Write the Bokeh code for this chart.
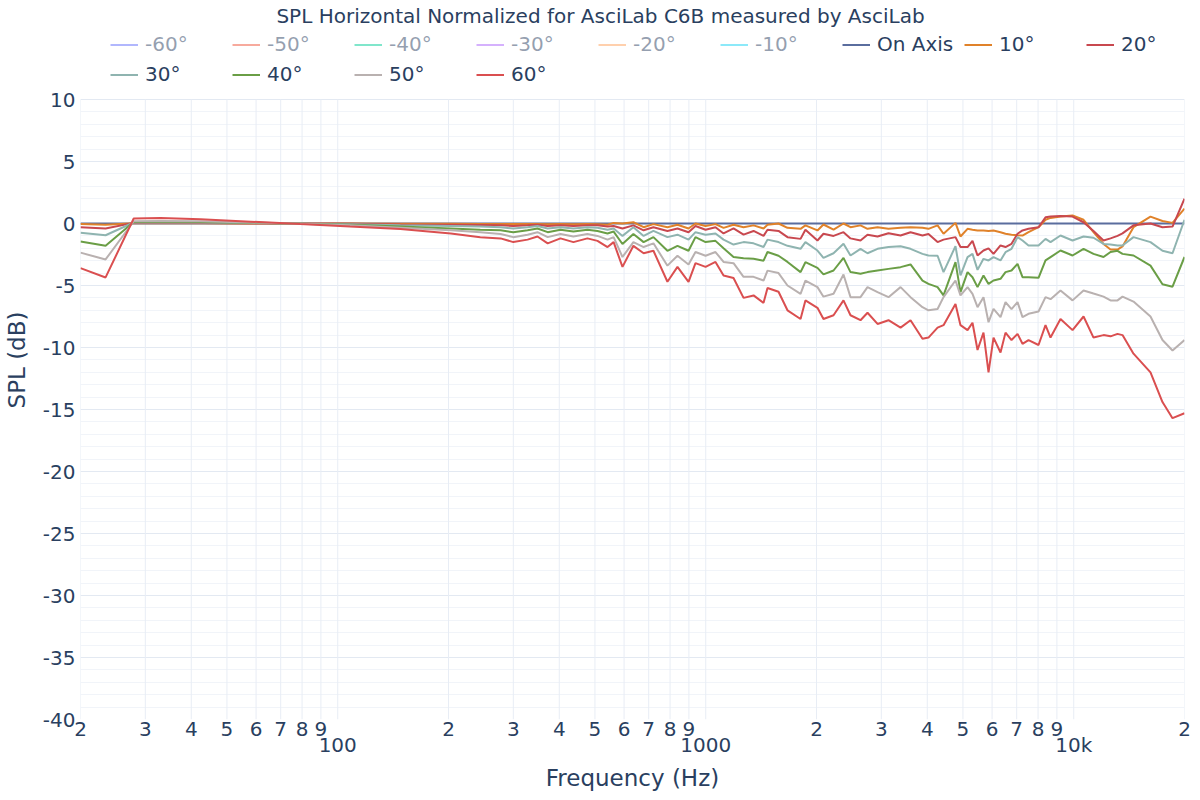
from bokeh.plotting import figure
from bokeh.models import Range1d, FixedTicker, LogAxis, Legend, LegendItem, Label
from bokeh.embed import file_html
from bokeh.resources import INLINE

# ---------------- data ----------------
freq_hz = [20, 23.4, 27.9, 33, 42.4, 58, 79, 108, 148, 203,
           244, 277, 300, 328, 349, 372, 403, 437, 477, 508,
           541, 562, 594, 636, 678, 721, 787, 838, 898, 938,
           999, 1063, 1118, 1190, 1267, 1349, 1436, 1472, 1577, 1668,
           1810, 1866, 2012, 2089, 2225, 2368, 2474, 2634, 2752, 2930,
           3138, 3384, 3602, 3882, 4030, 4266, 4428, 4772, 4924, 5146,
           5308, 5478, 5686, 5868, 6054, 6325, 6526, 6776, 7036, 7258,
           7536, 8024, 8382, 8650, 9206, 9926, 10634, 11318, 12050, 12590,
           13152, 13570, 14536, 16166, 17426, 18556, 20000]

spl_on_axis = [0.0, 0.0, 0.0, 0.0, 0.0, 0.0, 0.0, 0.0, 0.0, 0.0,
               0.0, 0.0, 0.0, 0.0, 0.0, 0.0, 0.0, 0.0, 0.0, 0.0,
               0.0, 0.0, 0.0, 0.0, 0.0, 0.0, 0.0, 0.0, 0.0, 0.0,
               0.0, 0.0, 0.0, 0.0, 0.0, 0.0, 0.0, 0.0, 0.0, 0.0,
               0.0, 0.0, 0.0, 0.0, 0.0, 0.0, 0.0, 0.0, 0.0, 0.0,
               0.0, 0.0, 0.0, 0.0, 0.0, 0.0, 0.0, 0.0, 0.0, 0.0,
               0.0, 0.0, 0.0, 0.0, 0.0, 0.0, 0.0, 0.0, 0.0, 0.0,
               0.0, 0.0, 0.0, 0.0, 0.0, 0.0, 0.0, 0.0, 0.0, 0.0,
               0.0, 0.0, 0.0, 0.0, 0.0, 0.0, 0.0]

spl_10 = [-0.05, -0.1, 0.02, 0.02, 0.02, 0.0, 0.0, -0.01, -0.02, -0.03,
          -0.04, -0.05, -0.05, -0.05, -0.04, -0.06, -0.05, -0.06, -0.05, -0.06,
          -0.1, 0.05, 0.0, 0.1, -0.3, -0.05, -0.3, -0.1, -0.4, 0.0,
          -0.2, -0.05, -0.35, -0.1, -0.3, -0.15, -0.4, -0.1, 0.0, -0.35,
          -0.43, -0.15, -0.56, -0.08, -0.5, 0.0, -0.3, -0.15, -0.43, -0.3,
          -0.43, -0.35, -0.3, -0.35, -0.43, -0.15, -0.83, 0.05, -1.05, -0.43,
          -0.5, -0.56, -0.56, -0.6, -0.56, -0.7, -0.83, -0.9, -0.95, -0.97,
          -0.7, -0.3, 0.3, 0.45, 0.56, 0.65, 0.3, -0.7, -1.65, -2.1,
          -2.1, -1.85, -0.3, 0.55, 0.2, 0.05, 1.2]

spl_20 = [-0.3, -0.4, 0.05, 0.05, 0.05, 0.03, 0.0, -0.03, -0.08, -0.1,
          -0.12, -0.15, -0.2, -0.15, -0.1, -0.2, -0.15, -0.2, -0.15, -0.15,
          -0.25, -0.2, -0.4, -0.15, -0.55, -0.3, -0.6, -0.4, -0.7, -0.2,
          -0.5, -0.3, -0.8, -0.4, -0.9, -0.6, -1.0, -0.5, -0.6, -1.1,
          -1.24, -0.5, -1.37, -0.83, -1.0, -0.7, -1.2, -1.37, -0.9, -1.05,
          -0.78, -0.97, -0.7, -0.97, -0.85, -1.5, -1.3, -1.1, -1.9, -1.9,
          -1.4, -2.58, -2.18, -2.0, -2.45, -1.77, -1.9, -1.64, -0.83, -0.56,
          -0.43, -0.3, 0.5, 0.56, 0.6, 0.56, 0.1, -0.6, -1.37, -1.2,
          -1.0, -0.8, -0.15, 0.0, -0.3, -0.25, 2.0]

spl_30 = [-0.75, -0.95, 0.08, 0.1, 0.08, 0.05, 0.0, -0.06, -0.15, -0.2,
          -0.25, -0.3, -0.4, -0.3, -0.2, -0.4, -0.3, -0.4, -0.3, -0.35,
          -0.5, -0.4, -1.0, -0.3, -1.0, -0.6, -1.1, -0.9, -1.3, -0.7,
          -0.9, -0.8, -1.3, -1.7, -1.5, -1.6, -1.9, -1.3, -1.5, -1.8,
          -2.04, -1.5, -2.18, -2.77, -2.4, -1.64, -2.58, -2.04, -2.4, -2.04,
          -1.9, -1.83, -2.04, -2.45, -2.58, -2.6, -3.92, -1.83, -4.19, -2.71,
          -2.45, -3.74, -2.85, -2.98, -2.71, -2.98, -2.31, -2.04, -1.1, -1.37,
          -1.77, -1.77, -1.24, -1.5, -0.97, -1.37, -1.05, -1.15, -1.65, -1.7,
          -1.77, -1.77, -1.1, -1.5, -2.2, -2.4, 0.3]

spl_40 = [-1.45, -1.8, 0.12, 0.15, 0.12, 0.06, -0.02, -0.1, -0.25, -0.4,
          -0.5, -0.55, -0.7, -0.55, -0.4, -0.7, -0.5, -0.65, -0.5, -0.6,
          -0.8, -0.65, -1.65, -0.85, -1.5, -1.1, -2.2, -1.8, -2.2, -1.1,
          -1.5, -1.4, -2.0, -2.7, -2.8, -2.85, -3.0, -2.3, -2.6, -3.1,
          -3.92, -3.12, -3.58, -4.1, -3.79, -2.77, -3.92, -4.06, -3.92, -3.79,
          -3.66, -3.52, -3.3, -4.6, -4.87, -5.13, -5.8, -3.12, -5.54, -3.92,
          -4.33, -5.13, -4.19, -4.87, -4.6, -4.46, -3.92, -3.79, -3.25, -4.33,
          -4.33, -4.38, -2.98, -2.71, -2.18, -2.58, -2.04, -2.45, -2.7, -2.3,
          -2.2, -2.45, -2.58, -3.4, -4.9, -5.1, -2.7]

spl_50 = [-2.35, -2.9, 0.18, 0.2, 0.18, 0.08, -0.03, -0.15, -0.35, -0.55,
          -0.7, -0.85, -1.1, -0.9, -0.7, -1.1, -0.85, -1.05, -0.85, -1.0,
          -1.3, -1.1, -2.7, -1.5, -1.9, -1.6, -3.4, -2.6, -3.3, -2.3,
          -2.6, -2.3, -3.1, -3.2, -4.3, -4.3, -4.6, -3.8, -4.0, -5.0,
          -5.67, -4.6, -5.13, -5.9, -5.67, -4.11, -5.94, -5.94, -5.13, -5.54,
          -5.94, -5.13, -5.94, -6.75, -7.0, -6.9, -5.94, -4.6, -5.8, -5.13,
          -5.67, -6.75, -5.94, -7.96, -6.88, -7.55, -6.34, -6.9, -6.34, -7.55,
          -7.28, -7.1, -5.94, -6.1, -5.4, -6.2, -5.4, -5.65, -5.9, -6.2,
          -6.2, -5.9, -6.3, -7.5, -9.4, -10.24, -9.4]

spl_60 = [-3.6, -4.35, 0.4, 0.45, 0.35, 0.15, -0.05, -0.25, -0.45, -0.8,
          -1.1, -1.2, -1.5, -1.3, -1.05, -1.6, -1.2, -1.5, -1.2, -1.4,
          -1.9, -1.5, -3.5, -1.8, -2.4, -2.2, -4.7, -3.5, -4.7, -3.2,
          -3.5, -3.1, -4.2, -4.4, -6.0, -5.8, -6.4, -5.2, -5.5, -7.0,
          -7.7, -6.2, -6.8, -7.7, -7.4, -6.2, -7.4, -7.8, -7.2, -8.1,
          -7.8, -8.4, -7.8, -9.3, -9.2, -8.4, -8.2, -6.5, -8.2, -8.6,
          -8.0, -10.2, -8.8, -12.0, -9.2, -10.4, -8.8, -9.4, -8.9, -9.7,
          -9.4, -9.8, -8.2, -9.2, -7.7, -8.6, -7.5, -9.2, -9.0, -9.1,
          -8.9, -9.0, -10.5, -12.0, -14.4, -15.7, -15.3]

# negative angles are hidden (legend-only) in the reference; symmetric data
spl_m10 = spl_10
spl_m20 = spl_20
spl_m30 = spl_30
spl_m40 = spl_40
spl_m50 = spl_50
spl_m60 = spl_60

series_names = ["-60°", "-50°", "-40°", "-30°", "-20°", "-10°", "On Axis",
                "10°", "20°", "30°", "40°", "50°", "60°"]
series_values = [spl_m60, spl_m50, spl_m40, spl_m30, spl_m20, spl_m10, spl_on_axis,
                 spl_10, spl_20, spl_30, spl_40, spl_50, spl_60]
series_visible = [False, False, False, False, False, False, True,
                  True, True, True, True, True, True]
series_colors = ["#636efa", "#ef553b", "#00cc96", "#ab63fa", "#ffa15a", "#19d3f3",
                 "#5a6d9e", "#e0822a", "#c8484f", "#8fb4b0", "#6a9e46", "#b9b1b0", "#da4f50"]

x_minor_ticks = [20, 30, 40, 50, 60, 70, 80, 90,
                 200, 300, 400, 500, 600, 700, 800, 900,
                 2000, 3000, 4000, 5000, 6000, 7000, 8000, 9000, 20000]
x_minor_labels = ["2", "3", "4", "5", "6", "7", "8", "9",
                  "2", "3", "4", "5", "6", "7", "8", "9",
                  "2", "3", "4", "5", "6", "7", "8", "9", "2"]
x_major_ticks = [100, 1000, 10000]
x_major_labels = ["100", "1000", "10k"]
y_ticks = [-40, -35, -30, -25, -20, -15, -10, -5, 0, 5, 10]
y_tick_labels = ["-40", "-35", "-30", "-25", "-20", "-15", "-10", "-5", "0", "5", "10"]
y_min, y_max = -40, 10

TITLE = "SPL Horizontal Normalized for AsciLab C6B measured by AsciLab"
FONT = "DejaVu Sans"
TXT = "#2a3f5f"

# ---------------- figure ----------------
# frame spans the whole top area (title + legend live inside it, above y = 10 dB)
FRAME_H = 719
PX_PER_DB = 620 / (y_max - y_min)
p = figure(width=1200, height=800, x_axis_type="log",
           x_range=Range1d(20, 20000),
           y_range=Range1d(y_min, y_max + (FRAME_H - 620) / PX_PER_DB),
           output_backend="svg", toolbar_location=None,
           min_border_left=80, min_border_right=16, min_border_top=0, min_border_bottom=81,
           background_fill_color="white", border_fill_color="white")
p.outline_line_color = None
p.title = None

# vertical grid lines limited to the data area
all_x_ticks = sorted(x_minor_ticks + x_major_ticks)
p.xgrid[0].visible = False
p.segment(x0=all_x_ticks, y0=[y_min] * len(all_x_ticks), x1=all_x_ticks,
          y1=[y_max] * len(all_x_ticks), line_color="#e8edf5", line_width=1)

renderers = []
for name, ys, col, vis in zip(series_names, series_values, series_colors, series_visible):
    r = p.line(freq_hz, ys, line_color=col, line_width=2, visible=vis)
    renderers.append(r)

def no_ticks(ax):
    ax.axis_line_color = None
    ax.major_tick_line_color = None
    ax.minor_tick_line_color = None
    ax.major_tick_out = 0
    ax.major_tick_in = 0
    ax.minor_tick_out = 0
    ax.minor_tick_in = 0

# y axis
ya = p.yaxis[0]
ya.ticker = FixedTicker(ticks=y_ticks, minor_ticks=list(range(y_min, y_max + 1)))
ya.major_label_overrides = {t: s for t, s in zip(y_ticks, y_tick_labels)}
ya.axis_label = "SPL (dB)"
ya.axis_label_text_font = FONT
ya.axis_label_text_font_size = "23px"
ya.axis_label_text_font_style = "normal"
ya.axis_label_text_color = TXT
ya.axis_label_standoff = 10
ya.major_label_text_font = FONT
ya.major_label_text_font_size = "20px"
ya.major_label_text_color = TXT
ya.major_label_standoff = 5
no_ticks(ya)

# x axis (digits)
xa = p.xaxis[0]
xa.ticker = FixedTicker(ticks=x_minor_ticks)
xa.major_label_overrides = {t: s for t, s in zip(x_minor_ticks, x_minor_labels)}
xa.major_label_text_font = FONT
xa.major_label_text_font_size = "20px"
xa.major_label_text_color = TXT
xa.major_label_standoff = 2
no_ticks(xa)

# x axis (decades)
xa2 = LogAxis(ticker=FixedTicker(ticks=x_major_ticks),
              major_label_overrides={t: s for t, s in zip(x_major_ticks, x_major_labels)})
xa2.major_label_text_font = FONT
xa2.major_label_text_font_size = "20px"
xa2.major_label_text_color = TXT
xa2.major_label_standoff = -6
no_ticks(xa2)
xa2.axis_label = "Frequency (Hz)"
xa2.axis_label_text_font = FONT
xa2.axis_label_text_font_size = "23px"
xa2.axis_label_text_font_style = "normal"
xa2.axis_label_text_color = TXT
xa2.axis_label_standoff = 5
p.add_layout(xa2, "below")

# horizontal grid
p.ygrid[0].grid_line_color = "#e3e9f2"
p.ygrid[0].minor_grid_line_color = "#f1f4f9"

# legends: two rows inside the frame's top strip
items = [LegendItem(label=n, renderers=[r]) for n, r in zip(series_names, renderers)]

def make_legend(its, loc):
    return Legend(items=its, orientation="horizontal", location=loc,
                  label_text_font=FONT, label_text_font_size="20px", label_text_color=TXT,
                  glyph_width=28, glyph_height=23, label_height=23, label_width=80,
                  label_standoff=7, spacing=7, padding=0, margin=0,
                  border_line_color=None, background_fill_alpha=0,
                  click_policy="hide",
                  inactive_fill_color="white", inactive_fill_alpha=0.5)

p.add_layout(make_legend(items[:9], (30, FRAME_H - 33 - 23)))
p.add_layout(make_legend(items[9:], (30, FRAME_H - 63 - 23)))

p.add_layout(Label(x=520, y=FRAME_H - 15, x_units="screen", y_units="screen",
                   text=TITLE, text_align="center", text_baseline="middle",
                   text_font=FONT, text_font_size="20px", text_color=TXT))

open("out.html", "w").write(file_html(p, INLINE))
